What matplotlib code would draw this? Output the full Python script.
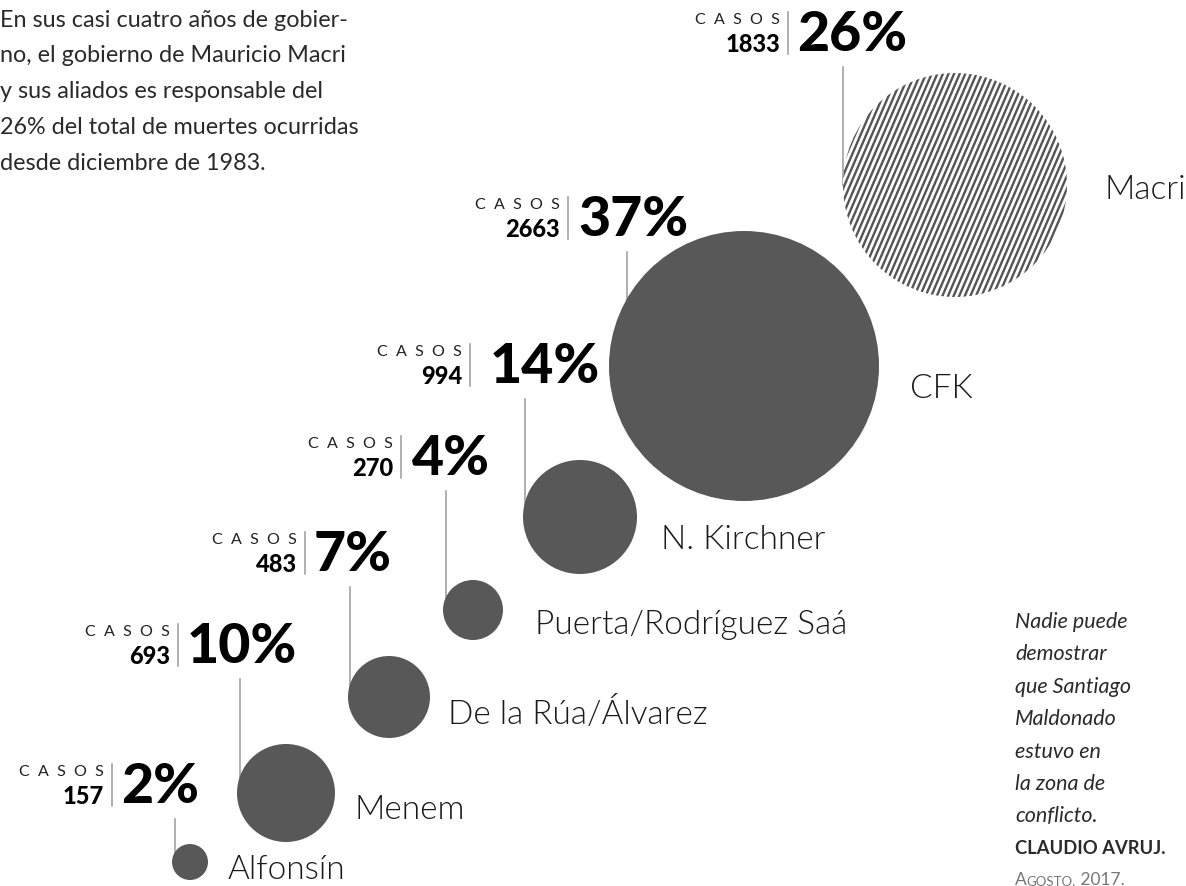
import numpy as np
import matplotlib.pyplot as plt
from matplotlib.patches import Circle
from matplotlib.collections import LineCollection

# datos
nombres = ['Alfonsín', 'Menem', 'De la Rúa/Álvarez', 'Puerta/Rodríguez Saá',
           'N. Kirchner', 'CFK', 'Macri']
casos = [157, 693, 483, 270, 994, 2663, 1833]
porcentajes = [2, 10, 7, 4, 14, 37, 26]

intro = ['En sus casi cuatro años de gobier-',
         'no, el gobierno de Mauricio Macri',
         'y sus aliados es responsable del',
         '26% del total de muertes ocurridas',
         'desde diciembre de 1983.']
cita = ['Nadie puede', 'demostrar', 'que Santiago', 'Maldonado',
        'estuvo en', 'la zona de', 'conflicto.']

# layout (pixeles)
cx = [190, 286, 389, 473, 580, 744, 955]
cy = [862, 793, 697, 610, 517, 366, 185]
radio = [18, 49, 41, 30, 57, 135, 112]
sep_x = [112, 178, 305, 401, 470, 568, 788]
lab_y = [785, 645, 553, 457, 365, 218, 33]
gap_pct = [9, 9, 9, 11, 20, 10, 9]
linea_x = [175, 240, 350, 446, 525, 627, 843]
nom_x = [228, 355, 448, 535, 661, 910, 1105]
nom_y = [870, 810, 713, 625, 540, 389, 190]

GRIS = '#585858'
FONT = 'Lato'

fig = plt.figure(figsize=(11.86, 8.86), dpi=100)
ax = fig.add_axes([0, 0, 1, 1])
ax.set_xlim(0, 1186)
ax.set_ylim(886, 0)
ax.axis('off')

for i in range(len(nombres)):
    # linea guia
    ax.plot([linea_x[i], linea_x[i]], [lab_y[i] + 34, cy[i]],
            color='#9a9a9a', lw=1.1, zorder=1)
    if nombres[i] == 'Macri':
        c = Circle((cx[i], cy[i]), radio[i], facecolor='white',
                   edgecolor='none', zorder=2)
        ax.add_patch(c)
        # rayado inclinado
        pend = 0.45
        segs = [[(x0 + pend * radio[i], cy[i] - radio[i] - 5),
                 (x0 - pend * radio[i], cy[i] + radio[i] + 5)]
                for x0 in np.arange(cx[i] - radio[i] - 60, cx[i] + radio[i] + 60, 5.6)]
        lc = LineCollection(segs, colors='#555555', linewidths=1.7, zorder=3)
        lc.set_clip_path(c)
        ax.add_collection(lc)
    else:
        ax.add_patch(Circle((cx[i], cy[i]), radio[i], facecolor=GRIS,
                            edgecolor='none', zorder=2))

    # etiqueta
    ax.plot([sep_x[i], sep_x[i]], [lab_y[i] - 21, lab_y[i] + 21],
            color='#9a9a9a', lw=1.1)
    ax.text(sep_x[i] - 8, lab_y[i] - 13, 'C  A  S  O  S', ha='right', va='center',
            fontsize=11.5, family=FONT, color='#222222')
    ax.text(sep_x[i] - 8, lab_y[i] + 11, str(casos[i]), ha='right', va='center',
            fontsize=17, family=FONT, weight='black', color='black')
    ax.text(sep_x[i] + gap_pct[i], lab_y[i] + 2, f'{porcentajes[i]}%',
            ha='left', va='center', fontsize=40, family=FONT, weight='black',
            color='black')
    ax.text(nom_x[i], nom_y[i], nombres[i], ha='left', va='center',
            fontsize=24, family=FONT, weight=300, color='#1a1a1a')

for j, linea in enumerate(intro):
    ax.text(0, 20 + j * 35.8, linea, ha='left', va='center', fontsize=16.8,
            family=FONT, color='#2a2a2a')

for j, linea in enumerate(cita):
    ax.text(1015, 622 + j * 32.4, linea, ha='left', va='center', fontsize=15.5,
            family=FONT, style='italic', color='#2a2a2a')
ax.text(1015, 622 + 7 * 32.4, 'CLAUDIO AVRUJ.', ha='left', va='center',
        fontsize=13.2, family=FONT, weight='bold', color='#2a2a2a')
t1 = ax.text(1015, 885, 'A', ha='left', va='baseline', fontsize=12.5,
             family=FONT, color='#777777')
t2 = ax.annotate('GOSTO.', xy=(1, 0), xycoords=t1, ha='left', va='bottom',
                 fontsize=9.5, family=FONT, color='#777777')
ax.annotate(' 2017.', xy=(1, 0), xycoords=t2, ha='left', va='bottom',
            fontsize=12.5, family=FONT, color='#777777')

fig.savefig('out.png', dpi=100)
